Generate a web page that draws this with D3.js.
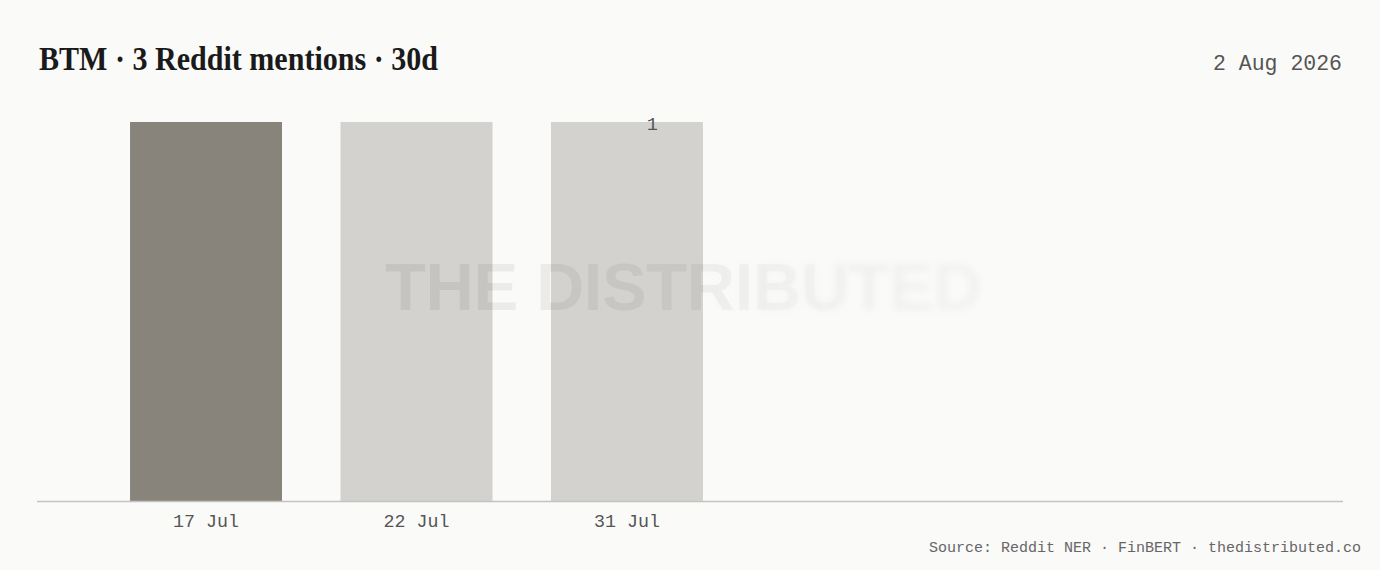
<!DOCTYPE html>
<html>
<head>
<meta charset="utf-8">
<script src="https://cdn.jsdelivr.net/npm/d3@7"></script>
<style>
  html, body { margin: 0; padding: 0; background: #fafaf9; }
  svg { display: block; }
</style>
</head>
<body>
<svg id="chart" width="1380" height="570"></svg>
<script>
// ---- data ----
const titleText = "BTM · 3 Reddit mentions · 30d";
const dateText = "2 Aug 2026";
const sourceText = "Source: Reddit NER · FinBERT · thedistributed.co";
const watermarkText = "THE DISTRIBUTED";
const categories = ["17 Jul", "22 Jul", "31 Jul"];
const mentions = [1, 1, 1];
const highlighted = [true, false, false];
const lastValueLabel = "1";

// ---- layout ----
const W = 1380, H = 570;
const baseY = 501, topY = 122;
const axisX0 = 37, axisX1 = 1343;

const svg = d3.select("#chart");
svg.append("rect").attr("width", W).attr("height", H).attr("fill", "#fafaf9");

const data = categories.map((c, i) => ({ cat: c, v: mentions[i], hi: highlighted[i] }));

const x = d3.scaleBand().domain(categories).range([37, 796]).paddingInner(0.278).paddingOuter(0.442);
const y = d3.scaleLinear().domain([0, d3.max(mentions)]).range([baseY, topY]);

// bars
svg.append("g").selectAll("rect").data(data).join("rect")
  .attr("x", d => x(d.cat))
  .attr("y", d => y(d.v))
  .attr("width", x.bandwidth())
  .attr("height", d => y(0) - y(d.v))
  .attr("fill", d => d.hi ? "#89847b" : "#d3d2ce");

// watermark
const defs = svg.append("defs");
const wmX0 = 385, wmX1 = 982;
const grad = defs.append("linearGradient").attr("id", "wmFill")
  .attr("gradientUnits", "userSpaceOnUse").attr("x1", wmX0).attr("x2", wmX1).attr("y1", 0).attr("y2", 0);
grad.append("stop").attr("offset", 0).attr("stop-color", "#000").attr("stop-opacity", 0.065);
grad.append("stop").attr("offset", 0.55).attr("stop-color", "#000").attr("stop-opacity", 0.05);
grad.append("stop").attr("offset", 1).attr("stop-color", "#000").attr("stop-opacity", 0.03);

const mSharp = defs.append("linearGradient").attr("id", "mSharpG")
  .attr("gradientUnits", "userSpaceOnUse").attr("x1", wmX0).attr("x2", wmX1).attr("y1", 0).attr("y2", 0);
mSharp.append("stop").attr("offset", 0.5).attr("stop-color", "#fff");
mSharp.append("stop").attr("offset", 0.8).attr("stop-color", "#000");
const mBlur = defs.append("linearGradient").attr("id", "mBlurG")
  .attr("gradientUnits", "userSpaceOnUse").attr("x1", wmX0).attr("x2", wmX1).attr("y1", 0).attr("y2", 0);
mBlur.append("stop").attr("offset", 0.5).attr("stop-color", "#000");
mBlur.append("stop").attr("offset", 0.8).attr("stop-color", "#fff");

defs.append("mask").attr("id", "maskSharp").attr("maskUnits", "userSpaceOnUse")
  .attr("x", 0).attr("y", 0).attr("width", W).attr("height", H)
  .append("rect").attr("x", 0).attr("y", 0).attr("width", W).attr("height", H).attr("fill", "url(#mSharpG)");
defs.append("mask").attr("id", "maskBlur").attr("maskUnits", "userSpaceOnUse")
  .attr("x", 0).attr("y", 0).attr("width", W).attr("height", H)
  .append("rect").attr("x", 0).attr("y", 0).attr("width", W).attr("height", H).attr("fill", "url(#mBlurG)");
defs.append("filter").attr("id", "wmBlur").attr("x", "-10%").attr("y", "-30%").attr("width", "120%").attr("height", "160%")
  .append("feGaussianBlur").attr("stdDeviation", 3.5);

function wm(g) {
  return g.append("text")
    .attr("x", wmX0).attr("y", 310)
    .attr("font-family", "'Liberation Sans', Arial, sans-serif")
    .attr("font-weight", 700)
    .attr("font-size", 67)
    .attr("textLength", wmX1 - wmX0)
    .attr("lengthAdjust", "spacing")
    .attr("fill", "url(#wmFill)")
    .text(watermarkText);
}
wm(svg.append("g").attr("mask", "url(#maskSharp)"));
wm(svg.append("g").attr("mask", "url(#maskBlur)").append("g").attr("filter", "url(#wmBlur)"));

// axis baseline
svg.append("line")
  .attr("x1", axisX0).attr("x2", axisX1).attr("y1", baseY + 0.5).attr("y2", baseY + 0.5)
  .attr("stroke", "#c3c3bf").attr("stroke-width", 1.5);

// x axis labels
const xAxis = d3.axisBottom(x).tickSize(0).tickPadding(0);
const gx = svg.append("g").attr("transform", `translate(0,${baseY})`).call(xAxis);
gx.select(".domain").remove();
gx.selectAll("text")
  .attr("y", 26).attr("dy", 0)
  .attr("font-family", "'Liberation Mono', monospace")
  .attr("font-size", 18.3)
  .attr("fill", "#555");

// last value label
const last = data[data.length - 1];
svg.append("text")
  .attr("x", x(last.cat) + x.bandwidth() * 0.667)
  .attr("y", y(last.v) + 7.5)
  .attr("text-anchor", "middle")
  .attr("font-family", "'Liberation Mono', monospace")
  .attr("font-size", 18.5)
  .attr("fill", "#555")
  .text(lastValueLabel);

// title
svg.append("text")
  .attr("x", 39).attr("y", 70)
  .attr("font-family", "'Liberation Serif', 'DejaVu Serif', serif")
  .attr("font-weight", 700)
  .attr("font-size", 34)
  .attr("textLength", 399)
  .attr("lengthAdjust", "spacingAndGlyphs")
  .attr("fill", "#1a1a1a")
  .text(titleText);

// date
svg.append("text")
  .attr("x", 1342).attr("y", 70)
  .attr("text-anchor", "end")
  .attr("font-family", "'Liberation Mono', monospace")
  .attr("font-size", 21.5)
  .attr("fill", "#555")
  .text(dateText);

// source
svg.append("text")
  .attr("x", 1361).attr("y", 552)
  .attr("text-anchor", "end")
  .attr("font-family", "'Liberation Mono', monospace")
  .attr("font-size", 15)
  .attr("fill", "#666")
  .text(sourceText);
</script>
</body>
</html>
